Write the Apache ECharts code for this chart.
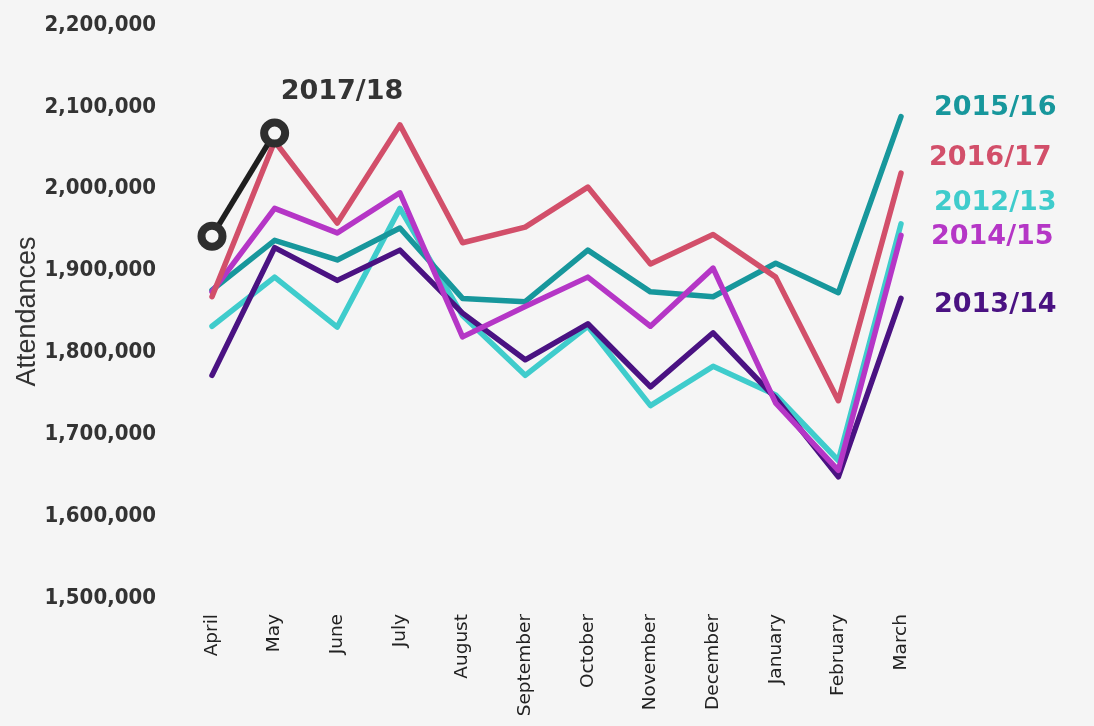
<!DOCTYPE html>
<html>
<head>
<meta charset="utf-8">
<script src="https://cdn.jsdelivr.net/npm/echarts@6/dist/echarts.min.js"></script>
<style>
html,body{margin:0;padding:0;background:#f5f5f5;}
#chart{width:1094px;height:726px;}
</style>
</head>
<body>
<div id="chart"></div>
<script>
const months = ['April','May','June','July','August','September','October','November','December','January','February','March'];
const yTicks = {min: 1500000, max: 2200000, interval: 100000};
const yAxisTitle = 'Attendances';

const s2012 = [1832000, 1892000, 1831000, 1976000, 1845000, 1772000, 1832000, 1735000, 1783000, 1748000, 1668000, 1957000];
const s2013 = [1772000, 1928000, 1888000, 1925000, 1848000, 1791000, 1835000, 1758000, 1824000, 1744000, 1648000, 1866000];
const s2014 = [1874000, 1976000, 1946000, 1995000, 1819000, 1856000, 1892000, 1832000, 1903000, 1738000, 1656000, 1943000];
const s2015 = [1876000, 1937000, 1913000, 1952000, 1866000, 1862000, 1925000, 1874000, 1868000, 1909000, 1873000, 2088000];
const s2016 = [1868000, 2058000, 1958000, 2078000, 1934000, 1953000, 2002000, 1908000, 1944000, 1892000, 1741000, 2019000];
const s2017 = [1942000, 2068000];

const chart = echarts.init(document.getElementById('chart'));

function lineSeries(name, data, color, labelOffset, z) {
  return {
    name: name,
    type: 'line',
    data: data,
    z: z,
    symbol: 'none',
    lineStyle: {color: color, width: 5.5, cap: 'round', join: 'round'},
    itemStyle: {color: color},
    emphasis: {disabled: true},
    endLabel: {
      show: true,
      formatter: name,
      color: color,
      fontFamily: 'DejaVu Sans',
      fontWeight: 'bold',
      fontSize: 27,
      distance: 0,
      offset: labelOffset
    }
  };
}

chart.setOption({
  backgroundColor: '#f5f5f5',
  animation: false,
  grid: {left: 212, right: 193, top: 25, bottom: 128, containLabel: false, outerBoundsMode: 'none'},
  xAxis: {
    type: 'category',
    data: months,
    boundaryGap: false,
    axisLine: {show: false},
    axisTick: {show: false},
    splitLine: {show: false},
    axisLabel: {
      rotate: 90,
      margin: 16,
      color: '#222',
      fontFamily: 'DejaVu Sans',
      fontSize: 18.5,
      interval: 0
    }
  },
  yAxis: {
    type: 'value',
    min: yTicks.min,
    max: yTicks.max,
    interval: yTicks.interval,
    name: yAxisTitle,
    nameLocation: 'middle',
    nameRotate: 90,
    nameGap: 171,
    nameMoveOverlap: false,
    nameTextStyle: {color: '#333', fontFamily: 'Liberation Sans', fontSize: 27},
    axisLine: {show: false},
    axisTick: {show: false},
    splitLine: {show: false},
    axisLabel: {
      margin: 56,
      color: '#333',
      fontFamily: 'DejaVu Sans Condensed',
      fontWeight: 'bold',
      fontSize: 22,
      formatter: v => v.toLocaleString('en-US')
    }
  },
  series: [
    lineSeries('2012/13', s2012, '#3fcccc', [33, -21], 2),
    lineSeries('2013/14', s2013, '#4a1282', [33, 7], 3),
    lineSeries('2015/16', s2015, '#17979c', [33, -9], 4),
    lineSeries('2014/15', s2014, '#b536c6', [30, 2], 5),
    lineSeries('2016/17', s2016, '#d24f6a', [28, -15], 6),
    {
      name: '2017/18',
      type: 'line',
      data: s2017,
      z: 10,
      symbol: 'circle',
      symbolSize: 21,
      showAllSymbol: true,
      lineStyle: {color: '#1e1e1e', width: 5.5},
      itemStyle: {color: '#f5f5f5', borderColor: '#2e2e2e', borderWidth: 8},
      emphasis: {disabled: true},
      endLabel: {
        show: true,
        formatter: '2017/18',
        color: '#333',
        fontFamily: 'DejaVu Sans',
        fontWeight: 'bold',
        fontSize: 27,
        distance: 0,
        offset: [6, -41]
      }
    }
  ]
});
</script>
</body>
</html>
